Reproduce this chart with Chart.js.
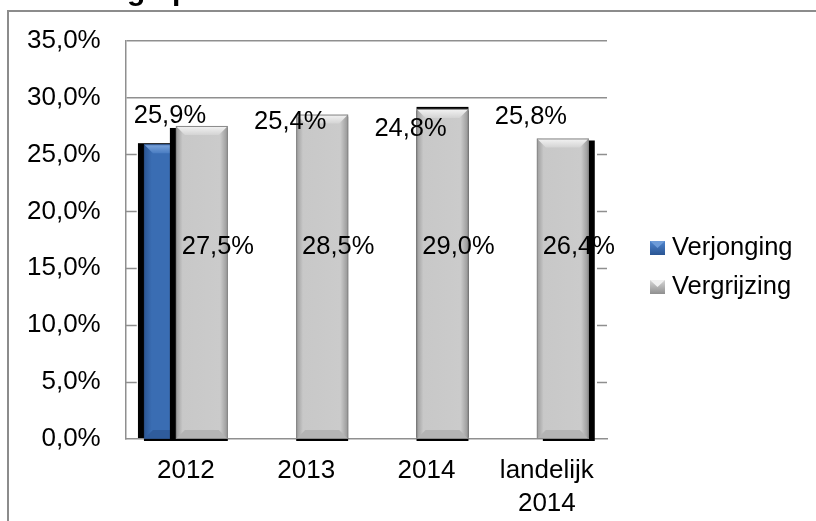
<!DOCTYPE html>
<html>
<head>
<meta charset="utf-8">
<script src="https://cdn.jsdelivr.net/npm/chart.js@4.4.1/dist/chart.umd.min.js"></script>
<style>
  html, body { margin: 0; padding: 0; background: #fff; }
  canvas { display: block; }
</style>
</head>
<body>
<canvas id="chart" width="816" height="521"></canvas>
<script>
// data
const categories = ['2012', '2013', '2014', ['landelijk', '2014']];
const verjonging = [25.9, 25.4, 24.8, 25.8];
const vergrijzing = [27.5, 28.5, 29.0, 26.4];
const yTicks = [0, 5, 10, 15, 20, 25, 30, 35];
const seriesNames = ['Verjonging', 'Vergrijzing'];
const titleText = 'Verdeling op';

// styling
const FONT = "'Liberation Sans', Arial, sans-serif";
const GRID = '#8f8f8f';
const BLUE = '#3a6db3';
const GREY = '#c9c9c9';
// only the first blue column is actually painted, the rest stay see-through
const blueFill = [BLUE, 'rgba(0,0,0,0)', 'rgba(0,0,0,0)', 'rgba(0,0,0,0)'];
// black drop shadows behind individual columns [dx, dy]
const blueShadows = [[[-6, -1], [0, 2]], [], [], []];
const greyShadows = [[[-6, 2], [0, 2]], [[0, 2]], [[0, -2], [0, 2]], [[6, 2]]];

const fmt = v => v.toFixed(1).replace('.', ',') + '%';

function drawColumn(ctx, bar, base, kind) {
  const {x, y, width} = bar.getProps(['x', 'y', 'width'], true);
  const l = x - width / 2, r = x + width / 2, t = y, b = base;
  const bev = 9;
  const g = ctx.createLinearGradient(l, 0, r, 0);
  if (kind === 'grey') {
    g.addColorStop(0, '#9b9b9b');
    g.addColorStop(0.13, '#c8c8c8');
    g.addColorStop(0.85, '#cbcbcb');
    g.addColorStop(1, '#959595');
  } else {
    g.addColorStop(0, '#2a5593');
    g.addColorStop(0.15, '#3a6db3');
    g.addColorStop(0.85, '#3a6db3');
    g.addColorStop(1, '#2c5a9c');
  }
  ctx.fillStyle = g;
  ctx.fillRect(l, t, width, b - t);

  // top bevel
  const tg = ctx.createLinearGradient(0, t, 0, t + bev);
  tg.addColorStop(0, kind === 'grey' ? '#f4f4f4' : '#7fa7dd');
  tg.addColorStop(1, kind === 'grey' ? '#d4d4d4' : '#4a7dc2');
  ctx.fillStyle = tg;
  ctx.beginPath();
  ctx.moveTo(l, t);
  ctx.lineTo(r, t);
  ctx.lineTo(r - bev, t + bev);
  ctx.lineTo(l + bev, t + bev);
  ctx.closePath();
  ctx.fill();

  // bottom bevel
  ctx.fillStyle = kind === 'grey' ? '#b4b4b4' : '#2f5c9c';
  ctx.beginPath();
  ctx.moveTo(l, b);
  ctx.lineTo(r, b);
  ctx.lineTo(r - bev, b - bev);
  ctx.lineTo(l + bev, b - bev);
  ctx.closePath();
  ctx.fill();

  ctx.strokeStyle = kind === 'grey' ? '#8a8a8a' : '#2a4f86';
  ctx.lineWidth = 1;
  ctx.strokeRect(l + 0.5, t + 0.5, width - 1, b - t - 1);
}

const columns = {
  id: 'columns',
  beforeDatasetsDraw(chart) {
    const ctx = chart.ctx;
    const y = chart.scales.y;
    const area = chart.chartArea;
    const base = y.getPixelForValue(0);
    ctx.save();

    // short grid stubs along both sides of the plot for the lower ticks
    ctx.strokeStyle = GRID;
    ctx.lineWidth = 1.5;
    y.ticks.forEach(t => {
      if (t.value <= 0 || t.value > 25) return;
      const py = Math.round(y.getPixelForValue(t.value)) + 0.5;
      ctx.beginPath();
      ctx.moveTo(area.left, py); ctx.lineTo(area.left + 11, py);
      ctx.moveTo(area.right - 10, py); ctx.lineTo(area.right, py);
      ctx.stroke();
    });

    // blue first, grey on top of it
    [0, 1].forEach(di => {
      const meta = chart.getDatasetMeta(di);
      const shadows = di === 0 ? blueShadows : greyShadows;
      meta.data.forEach((bar, i) => {
        const visible = di === 1 || blueFill[i] !== 'rgba(0,0,0,0)';
        const {x, y: top, width} = bar.getProps(['x', 'y', 'width'], true);
        ctx.fillStyle = '#000';
        shadows[i].forEach(([dx, dy]) => {
          ctx.fillRect(x - width / 2 + dx, top + dy, width, base - top);
        });
        if (visible) drawColumn(ctx, bar, base, di === 0 ? 'blue' : 'grey');
      });
    });
    ctx.restore();
    return false;
  },
  afterDraw(chart) {
    const ctx = chart.ctx;
    const y = chart.scales.y;
    const area = chart.chartArea;
    ctx.save();

    // value labels
    ctx.font = '25.5px ' + FONT;
    ctx.fillStyle = '#000';
    ctx.textAlign = 'center';
    ctx.textBaseline = 'middle';
    chart.getDatasetMeta(0).data.forEach((bar, i) => {
      ctx.fillText(fmt(verjonging[i]), bar.x, bar.y - 28);
    });
    const midY = y.getPixelForValue(16.9);
    chart.getDatasetMeta(1).data.forEach((bar, i) => {
      ctx.fillText(fmt(vergrijzing[i]), bar.x + 16, midY);
    });

    // legend
    const lx = area.right + 43;
    const rows = [248, 287];
    const swatch = [['#2a5593', '#4f86cf'], ['#8f8f8f', '#d6d6d6']];
    ctx.textAlign = 'left';
    seriesNames.forEach((name, k) => {
      const cy = rows[k];
      const sg = ctx.createLinearGradient(0, cy - 7, 0, cy + 7);
      sg.addColorStop(0, swatch[k][1]);
      sg.addColorStop(1, swatch[k][0]);
      ctx.fillStyle = sg;
      ctx.fillRect(lx, cy - 7, 15, 14);
      ctx.fillStyle = k === 0 ? '#6d9bd8' : '#f0f0f0';
      ctx.beginPath();
      ctx.moveTo(lx, cy - 7); ctx.lineTo(lx + 15, cy - 7); ctx.lineTo(lx + 7.5, cy);
      ctx.closePath();
      ctx.fill();
      ctx.fillStyle = '#000';
      ctx.fillText(name, lx + 22, cy);
    });

    // outer frame and the clipped title above it
    ctx.strokeStyle = '#8c8c8c';
    ctx.lineWidth = 2;
    ctx.strokeRect(8, 11, 900, 600);
    ctx.font = 'bold 30px ' + FONT;
    ctx.textBaseline = 'alphabetic';
    const lead = ctx.measureText(titleText.slice(0, titleText.indexOf('g'))).width;
    ctx.fillText(titleText, 127 - lead, -0.5);
    ctx.restore();
  }
};

new Chart(document.getElementById('chart'), {
  type: 'bar',
  data: {
    labels: categories,
    datasets: [
      {
        label: seriesNames[0],
        data: verjonging,
        backgroundColor: blueFill,
        categoryPercentage: 0.531,
        barPercentage: 1.625
      },
      {
        label: seriesNames[1],
        data: vergrijzing,
        backgroundColor: GREY,
        categoryPercentage: 0.531,
        barPercentage: 1.625
      }
    ]
  },
  options: {
    responsive: false,
    animation: false,
    devicePixelRatio: 1,
    layout: { padding: { left: 2, top: 40, right: 209, bottom: -7 } },
    plugins: {
      legend: { display: false },
      tooltip: { enabled: false }
    },
    scales: {
      x: {
        grid: { display: false },
        border: { display: true, color: GRID, width: 1.5 },
        ticks: {
          color: '#000',
          font: { family: FONT, size: 26, lineHeight: 1.25 },
          padding: 8,
          maxRotation: 0,
          autoSkip: false
        }
      },
      y: {
        min: 0,
        max: 35,
        afterBuildTicks: scale => { scale.ticks = yTicks.map(v => ({ value: v })); },
        grid: {
          drawTicks: false,
          lineWidth: 1.5,
          color: c => (c.tick && c.tick.value > 25 ? GRID : 'rgba(0,0,0,0)')
        },
        border: { display: true, color: GRID, width: 1.5 },
        ticks: {
          color: '#000',
          font: { family: FONT, size: 26 },
          padding: 25,
          callback: v => fmt(v)
        }
      }
    }
  },
  plugins: [columns]
});
</script>
</body>
</html>
